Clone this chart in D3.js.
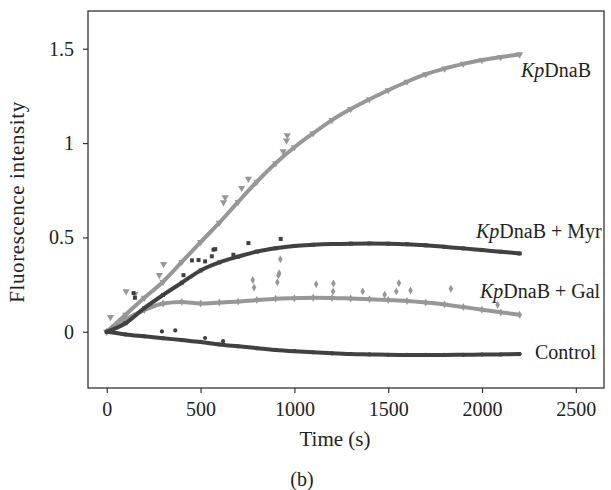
<!DOCTYPE html>
<html>
<head>
<meta charset="utf-8">
<script src="https://cdn.jsdelivr.net/npm/d3@7"></script>
<style>
  html, body { margin: 0; padding: 0; background: #fff; }
  svg text { font-family: "Liberation Serif", "Times New Roman", serif; fill: #222; }
</style>
</head>
<body>
<svg id="chart" width="611" height="490"></svg>
<script>
// ---- data ----
const times = [0,100,200,300,400,500,600,700,800,900,1000,1100,1200,1300,1400,1500,1600,1700,1800,1900,2000,2100,2200];
const kpDnaB = [0,0.09,0.18,0.265,0.37,0.475,0.578,0.688,0.795,0.893,0.978,1.052,1.122,1.18,1.232,1.28,1.325,1.365,1.395,1.42,1.44,1.456,1.47];
const kpMyr  = [0,0.045,0.125,0.195,0.26,0.325,0.368,0.398,0.425,0.443,0.455,0.461,0.465,0.467,0.468,0.467,0.464,0.458,0.45,0.442,0.433,0.424,0.415];
const kpGal  = [0,0.065,0.115,0.15,0.158,0.15,0.155,0.16,0.168,0.175,0.178,0.18,0.179,0.176,0.173,0.168,0.163,0.155,0.145,0.131,0.117,0.103,0.09];
const control= [0,-0.014,-0.024,-0.034,-0.044,-0.054,-0.067,-0.077,-0.087,-0.096,-0.103,-0.109,-0.114,-0.118,-0.12,-0.122,-0.123,-0.123,-0.123,-0.122,-0.121,-0.12,-0.118];

// scattered outlying readings [time, value]
const kpDnaBOut = [[20,0.078],[103,0.214],[150,0.2],[303,0.359],[280,0.3],[622,0.686],[631,0.712],[719,0.762],[755,0.81],[940,0.956],[958,1.013],[962,1.041]];
const kpMyrOut  = [[143,0.205],[150,0.18],[409,0.3],[454,0.378],[489,0.38],[524,0.373],[560,0.4],[569,0.435],[578,0.438],[675,0.408],[755,0.47],[927,0.492]];
const kpGalOut  = [[778,0.274],[785,0.235],[909,0.262],[915,0.3],[919,0.31],[925,0.384],[1116,0.252],[1208,0.256],[1206,0.214],[1364,0.214],[1481,0.196],[1543,0.214],[1557,0.258],[1619,0.219],[1834,0.228],[2083,0.143]];
const controlOut= [[294,0.002],[365,0.007],[524,-0.033],[620,-0.05]];

const xTicks = [0,500,1000,1500,2000,2500];
const yTicks = [0,0.5,1,1.5];
const yTickLabels = ["0","0.5","1","1.5"];

// ---- layout ----
const svg = d3.select("#chart");
const L = 88, R = 604, T = 11, B = 388;
const x = d3.scaleLinear().domain([-100, 2650]).range([L, R]);
const y = d3.scaleLinear().domain([-0.298, 1.7]).range([B, T]);

const light = "#979797", dark = "#414141";

// frame
svg.append("rect").attr("x", L).attr("y", T).attr("width", R - L).attr("height", B - T)
  .attr("fill", "none").attr("stroke", "#333").attr("stroke-width", 1.3);

// axes
const xAxis = svg.append("g").attr("transform", `translate(0,${B})`)
  .call(d3.axisBottom(x).tickValues(xTicks).tickSize(5).tickPadding(9).tickFormat(d3.format("d")));
const yAxis = svg.append("g").attr("transform", `translate(${L},0)`)
  .call(d3.axisLeft(y).tickValues(yTicks).tickSize(5).tickPadding(9).tickFormat((d, i) => yTickLabels[i]));
[xAxis, yAxis].forEach(g => {
  g.select(".domain").remove();
  g.selectAll(".tick line").attr("stroke", "#333").attr("stroke-width", 1.2);
  g.selectAll(".tick text").attr("font-size", 20).attr("fill", "#222")
    .style("font-family", '"Liberation Serif", serif');
});

// series
const series = [
  { vals: kpDnaB, out: kpDnaBOut, color: light, sym: "tri" },
  { vals: kpGal,  out: kpGalOut,  color: light, sym: "dia" },
  { vals: kpMyr,  out: kpMyrOut,  color: dark,  sym: "sq" },
  { vals: control,out: controlOut,color: dark,  sym: "circ" }
];
const line = d3.line().x(d => x(d[0])).y(d => y(d[1])).curve(d3.curveMonotoneX);
function symPath(s) {
  if (s === "tri") return d3.symbol().type(d3.symbolTriangle).size(22)();
  if (s === "dia") return d3.symbol().type(d3.symbolDiamond).size(18)();
  if (s === "sq")  return d3.symbol().type(d3.symbolSquare).size(16)();
  return d3.symbol().type(d3.symbolCircle).size(14)();
}
series.forEach(s => {
  const pts = times.map((t, i) => [t, s.vals[i]]);
  svg.append("path").datum(pts).attr("d", line)
    .attr("fill", "none").attr("stroke", s.color).attr("stroke-width", 4).attr("stroke-linecap", "round");
  const all = pts.concat(s.out);
  svg.append("g").selectAll("path").data(all).join("path")
    .attr("d", symPath(s.sym))
    .attr("transform", d => `translate(${x(d[0])},${y(d[1])})` + (s.sym === "tri" ? " rotate(180)" : ""))
    .attr("fill", s.color);
});

// series labels
function label(xp, yp, rest) {
  const t = svg.append("text").attr("x", xp).attr("y", yp).attr("font-size", 20);
  t.append("tspan").attr("font-style", "italic").text("Kp");
  t.append("tspan").text(rest);
}
label(521, 77, "DnaB");
label(476, 238, "DnaB + Myr");
label(480, 298, "DnaB + Gal");
svg.append("text").attr("x", 535).attr("y", 359).attr("font-size", 20).text("Control");

// axis titles
svg.append("text").attr("x", 335).attr("y", 446).attr("text-anchor", "middle")
  .attr("font-size", 21).text("Time (s)");
svg.append("text").attr("transform", "translate(24,202) rotate(-90)").attr("text-anchor", "middle")
  .attr("font-size", 21).attr("letter-spacing", 0.6).text("Fluorescence intensity");
svg.append("text").attr("x", 302).attr("y", 486).attr("text-anchor", "middle")
  .attr("font-size", 20).text("(b)");
</script>
</body>
</html>
